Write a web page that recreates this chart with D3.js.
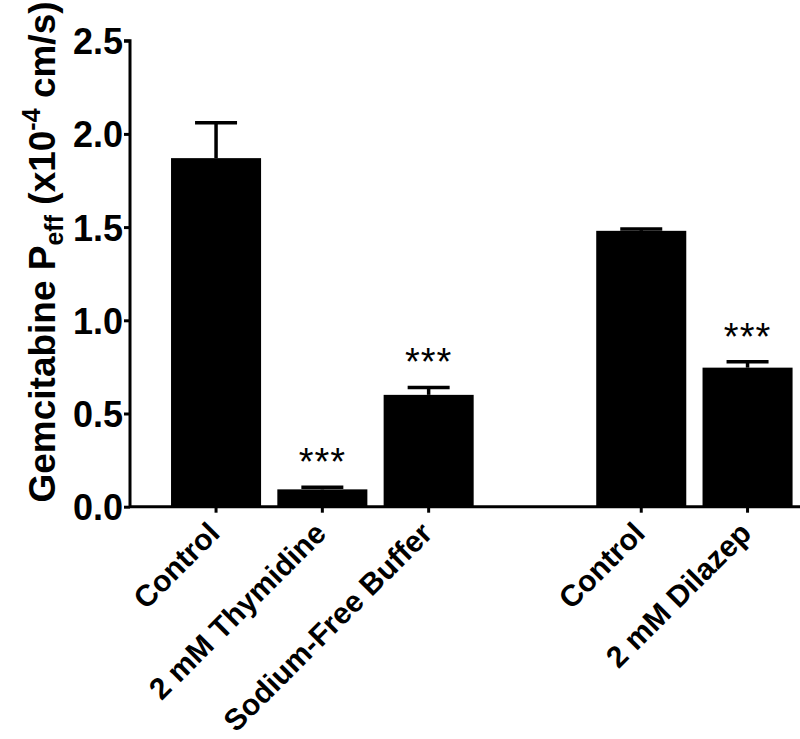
<!DOCTYPE html>
<html>
<head>
<meta charset="utf-8">
<script src="https://cdn.jsdelivr.net/npm/d3@7"></script>
<style>
  html, body { margin: 0; padding: 0; background: #fff; }
  svg { display: block; }
  text { font-family: "Liberation Sans", Arial, Helvetica, sans-serif; }
</style>
</head>
<body>
<svg id="chart" width="800" height="739"></svg>
<script>
// ---- data ----
const categories = ["Control", "2 mM Thymidine", "Sodium-Free Buffer", "Control", "2 mM Dilazep"];
const slots = ["s0", "s1", "s2", "s4", "s5"];          // position slots (s3 is the gap between groups)
const allSlots = ["s0", "s1", "s2", "s3", "s4", "s5"];
const values = [1.87, 0.093, 0.60, 1.48, 0.746];
const errors = [0.19, 0.011, 0.04, 0.01, 0.032];
const significance = ["", "***", "***", "", "***"];
const yTicks = [0, 0.5, 1.0, 1.5, 2.0, 2.5];

const data = categories.map((c, i) => ({ cat: c, slot: slots[i], v: values[i], e: errors[i], sig: significance[i] }));

// ---- layout ----
const svg = d3.select("#chart");
const x0 = 130, xEnd = 800;
const y = d3.scaleLinear().domain([0, 2.5]).range([506.7, 40.7]);
const x = d3.scaleBand().domain(allSlots).range([162.9, 800.7]).paddingInner(0.153).paddingOuter(0.0765);

svg.append("rect").attr("width", 800).attr("height", 739).attr("fill", "#fff");

// bars
svg.append("g").selectAll("rect").data(data).join("rect")
  .attr("x", d => x(d.slot))
  .attr("width", x.bandwidth())
  .attr("y", d => y(d.v))
  .attr("height", d => y(0) - y(d.v))
  .attr("fill", "#000");

// error bars (upper only)
const capHalf = 21;
const eg = svg.append("g").attr("stroke", "#000").attr("stroke-width", 3.5);
eg.selectAll("line.w").data(data).join("line").attr("class", "w")
  .attr("x1", d => x(d.slot) + x.bandwidth() / 2)
  .attr("x2", d => x(d.slot) + x.bandwidth() / 2)
  .attr("y1", d => y(d.v))
  .attr("y2", d => y(d.v + d.e));
eg.selectAll("line.c").data(data).join("line").attr("class", "c")
  .attr("x1", d => x(d.slot) + x.bandwidth() / 2 - capHalf)
  .attr("x2", d => x(d.slot) + x.bandwidth() / 2 + capHalf)
  .attr("y1", d => y(d.v + d.e))
  .attr("y2", d => y(d.v + d.e));

// significance
svg.append("g").selectAll("text").data(data.filter(d => d.sig)).join("text")
  .attr("x", d => x(d.slot) + x.bandwidth() / 2)
  .attr("y", d => y(d.v + d.e) - 12)
  .attr("text-anchor", "middle")
  .attr("font-size", 38)
  .attr("letter-spacing", 1)
  .attr("fill", "#000")
  .text(d => d.sig);

// y axis
const yAxis = d3.axisLeft(y).tickValues(yTicks).tickFormat(d3.format(".1f")).tickSize(6).tickPadding(1);
const yg = svg.append("g").attr("transform", `translate(${x0},0)`).call(yAxis);
yg.select(".domain").attr("stroke-width", 3).attr("d", `M-6,${y(2.5)}H0V${y(0)}`);
yg.selectAll(".tick line").attr("stroke-width", 3);
yg.selectAll(".tick text").attr("font-size", 36).attr("font-weight", "bold").attr("fill", "#000")
  .attr("font-family", '"Liberation Sans", Arial, sans-serif').attr("dy", "0.36em");

// x axis
const xg = svg.append("g").attr("transform", `translate(0,${y(0)})`);
xg.append("line").attr("x1", x0).attr("x2", xEnd).attr("y1", 0).attr("y2", 0)
  .attr("stroke", "#000").attr("stroke-width", 3);
xg.selectAll("line.t").data(data).join("line").attr("class", "t")
  .attr("x1", d => x(d.slot) + x.bandwidth() / 2)
  .attr("x2", d => x(d.slot) + x.bandwidth() / 2)
  .attr("y1", 0).attr("y2", 6)
  .attr("stroke", "#000").attr("stroke-width", 3);
xg.selectAll("text").data(data).join("text")
  .attr("transform", d => `translate(${x(d.slot) + x.bandwidth() / 2 - 2},${21}) rotate(-45)`)
  .attr("text-anchor", "end")
  .attr("dy", "0.35em")
  .attr("font-size", 30)
  .attr("font-weight", "bold")
  .attr("fill", "#000")
  .text(d => d.cat);

// y axis title
const title = svg.append("text")
  .attr("transform", `translate(55,252) rotate(-90)`)
  .attr("text-anchor", "middle")
  .attr("font-size", 37)
  .attr("font-weight", "bold")
  .attr("fill", "#000");
title.append("tspan").text("Gemcitabine P");
title.append("tspan").attr("font-size", 25).attr("dy", 8).text("eff");
title.append("tspan").attr("dy", -8).text(" (x10");
title.append("tspan").attr("font-size", 25).attr("dy", -15).text("-4");
title.append("tspan").attr("dy", 15).text(" cm/s)");
</script>
</body>
</html>
